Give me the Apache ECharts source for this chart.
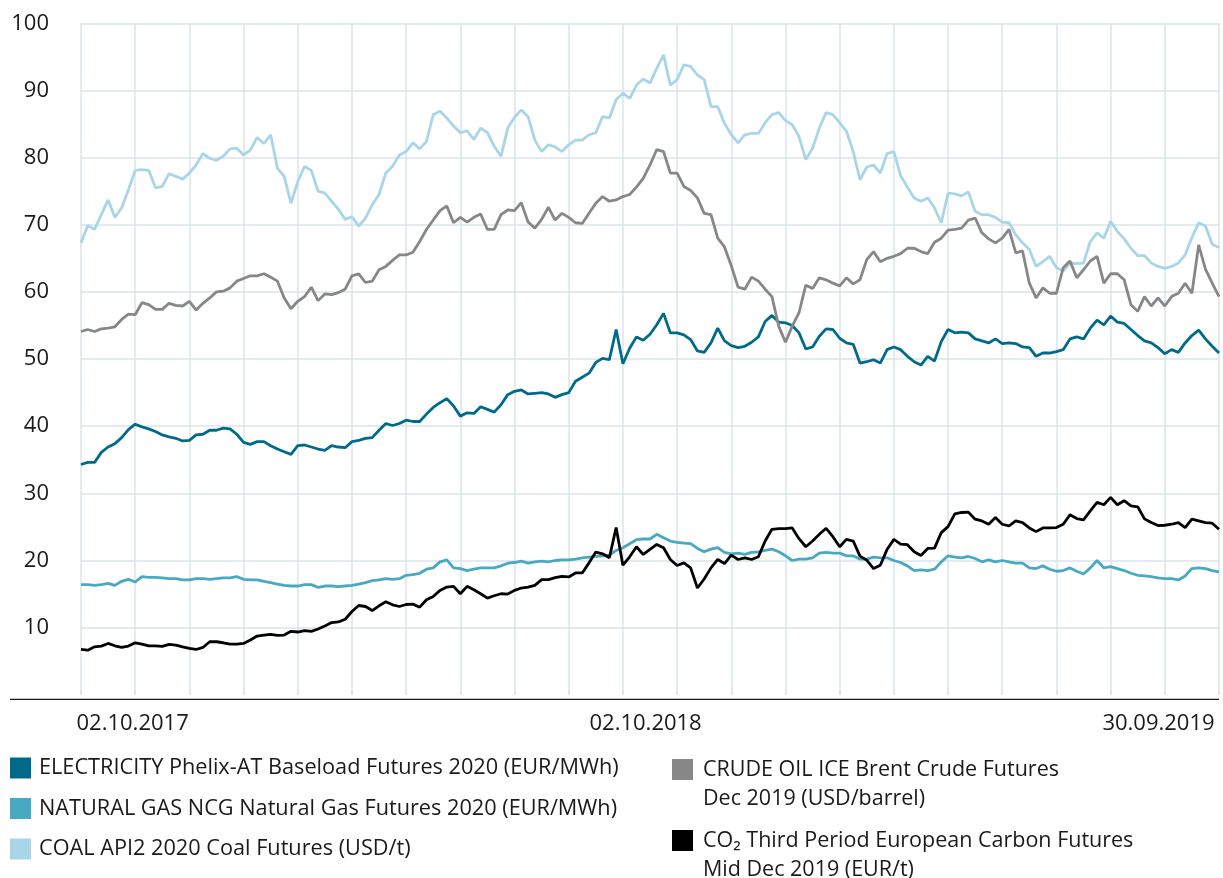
<!DOCTYPE html>
<html>
<head>
<meta charset="utf-8">
<script src="https://cdn.jsdelivr.net/npm/echarts@6/dist/echarts.min.js"></script>
<style>
html, body { margin: 0; padding: 0; background: #fff; }
#main { width: 1223px; height: 878px; }
</style>
</head>
<body>
<div id="main"></div>
<script>
// x runs over sample index 0..168, one gridline every 8 samples
var xLabelPos = [7.62, 83.35, 159.07];
var xLabelText = ['02.10.2017', '02.10.2018', '30.09.2019'];

var electricity = [
    34.3, 34.6, 34.6, 36.1, 36.9, 37.4, 38.3, 39.5, 40.3, 39.9, 39.6, 39.2, 38.7, 38.4, 38.2, 37.8,
    37.9, 38.7, 38.8, 39.4, 39.4, 39.7, 39.6, 38.8, 37.6, 37.3, 37.7, 37.7, 37.1, 36.6, 36.2, 35.8,
    37.1, 37.2, 36.9, 36.6, 36.4, 37.1, 36.9, 36.8, 37.7, 37.9, 38.2, 38.3, 39.4, 40.4, 40.1, 40.4,
    40.9, 40.7, 40.7, 41.8, 42.8, 43.5, 44.1, 43.0, 41.5, 42.0, 41.9, 42.9, 42.5, 42.1, 43.2, 44.7,
    45.2, 45.4, 44.8, 44.9, 45.0, 44.8, 44.3, 44.7, 45.0, 46.7, 47.3, 47.9, 49.5, 50.1, 49.9, 54.4,
    49.3, 51.6, 53.3, 52.8, 53.7, 55.1, 56.8, 53.9, 53.9, 53.6, 52.9, 51.2, 51.0, 52.4, 54.6, 52.7,
    52.0, 51.7, 51.9, 52.5, 53.3, 55.6, 56.5, 55.5, 55.4, 55.0, 53.9, 51.5, 51.8, 53.4, 54.5, 54.4,
    53.1, 52.4, 52.2, 49.4, 49.6, 49.9, 49.4, 51.4, 51.8, 51.4, 50.4, 49.6, 49.1, 50.4, 49.7, 52.6,
    54.4, 53.9, 54.0, 53.9, 53.0, 52.7, 52.4, 53.0, 52.3, 52.4, 52.3, 51.8, 51.7, 50.4, 50.9, 50.9,
    51.1, 51.4, 53.0, 53.3, 53.0, 54.6, 55.8, 55.1, 56.4, 55.5, 55.3, 54.4, 53.5, 52.7, 52.4, 51.7,
    50.8, 51.4, 51.0, 52.4, 53.5, 54.3, 53.0, 51.9, 50.9
];
var naturalGas = [
    16.4, 16.4, 16.3, 16.4, 16.6, 16.3, 16.9, 17.2, 16.8, 17.6, 17.5, 17.5, 17.4, 17.3, 17.3, 17.1,
    17.1, 17.3, 17.3, 17.2, 17.3, 17.4, 17.4, 17.6, 17.2, 17.1, 17.1, 16.9, 16.7, 16.5, 16.3, 16.2,
    16.2, 16.4, 16.4, 16.0, 16.2, 16.2, 16.1, 16.2, 16.3, 16.5, 16.7, 17.0, 17.1, 17.3, 17.2, 17.3,
    17.8, 17.9, 18.1, 18.7, 18.9, 19.8, 20.1, 18.9, 18.8, 18.5, 18.7, 18.9, 18.9, 18.9, 19.2, 19.6,
    19.7, 19.9, 19.6, 19.8, 19.9, 19.8, 20.0, 20.1, 20.1, 20.2, 20.4, 20.5, 20.6, 20.7, 20.8, 21.5,
    21.9, 22.5, 23.1, 23.2, 23.2, 23.9, 23.4, 22.9, 22.7, 22.6, 22.5, 21.8, 21.3, 21.7, 21.9, 21.2,
    21.0, 21.1, 20.9, 21.2, 21.3, 21.5, 21.7, 21.3, 20.7, 20.0, 20.2, 20.2, 20.4, 21.1, 21.2, 21.1,
    21.1, 20.7, 20.7, 20.2, 20.2, 20.5, 20.4, 20.4, 20.0, 19.7, 19.2, 18.5, 18.6, 18.5, 18.7, 19.8,
    20.7, 20.5, 20.4, 20.6, 20.3, 19.8, 20.1, 19.8, 20.0, 19.8, 19.6, 19.6, 18.9, 18.8, 19.2, 18.7,
    18.4, 18.5, 18.9, 18.4, 18.0, 18.9, 20.0, 18.9, 19.1, 18.8, 18.5, 18.1, 17.8, 17.7, 17.6, 17.4,
    17.3, 17.3, 17.1, 17.7, 18.8, 18.9, 18.8, 18.5, 18.3
];
var coal = [
    67.3, 69.9, 69.3, 71.5, 73.7, 71.1, 72.5, 75.2, 78.1, 78.2, 78.1, 75.5, 75.7, 77.6, 77.2, 76.8,
    77.7, 78.9, 80.6, 79.9, 79.6, 80.2, 81.3, 81.4, 80.4, 81.1, 83.0, 82.1, 83.4, 78.4, 77.2, 73.2,
    76.4, 78.7, 78.1, 75.0, 74.7, 73.5, 72.3, 70.8, 71.2, 69.8, 71.0, 73.0, 74.5, 77.7, 78.7, 80.4,
    80.9, 82.2, 81.3, 82.4, 86.4, 86.9, 85.9, 84.7, 83.7, 84.0, 82.7, 84.4, 83.7, 81.7, 80.2, 84.4,
    86.0, 87.1, 86.1, 82.6, 80.9, 81.9, 81.6, 80.9, 81.9, 82.6, 82.6, 83.4, 83.7, 86.1, 85.9, 88.6,
    89.6, 88.8, 90.8, 91.7, 91.1, 93.3, 95.3, 90.8, 91.6, 93.8, 93.6, 92.3, 91.6, 87.6, 87.6, 85.1,
    83.4, 82.2, 83.4, 83.6, 83.6, 85.2, 86.4, 86.7, 85.5, 84.9, 83.1, 79.7, 81.4, 84.4, 86.7, 86.4,
    85.2, 83.9, 80.9, 76.7, 78.6, 78.9, 77.7, 80.6, 80.9, 77.3, 75.6, 74.0, 73.5, 74.0, 72.5, 70.3,
    74.7, 74.6, 74.3, 74.9, 72.0, 71.5, 71.5, 71.1, 70.4, 70.3, 68.5, 67.3, 66.3, 63.8, 64.5, 65.3,
    63.6, 63.1, 64.3, 64.2, 64.3, 67.5, 68.8, 68.0, 70.5, 69.0, 67.9, 66.5, 65.4, 65.4, 64.3, 63.8,
    63.5, 63.8, 64.3, 65.5, 68.1, 70.3, 69.8, 67.1, 66.6
];
var crudeOil = [
    54.1, 54.4, 54.1, 54.5, 54.6, 54.8, 55.9, 56.7, 56.6, 58.4, 58.1, 57.4, 57.4, 58.3, 58.0, 57.9,
    58.6, 57.3, 58.3, 59.1, 60.0, 60.1, 60.6, 61.6, 62.0, 62.4, 62.4, 62.7, 62.2, 61.6, 59.1, 57.5,
    58.6, 59.3, 60.7, 58.7, 59.7, 59.6, 59.9, 60.4, 62.4, 62.7, 61.4, 61.6, 63.3, 63.8, 64.7, 65.5,
    65.5, 65.9, 67.5, 69.3, 70.7, 72.1, 72.8, 70.3, 71.1, 70.4, 71.1, 71.6, 69.3, 69.3, 71.5, 72.2,
    72.1, 73.3, 70.4, 69.5, 70.8, 72.6, 70.7, 71.7, 71.1, 70.3, 70.2, 71.7, 73.2, 74.2, 73.5, 73.7,
    74.2, 74.5, 75.6, 76.9, 78.9, 81.2, 80.9, 77.7, 77.7, 75.7, 75.1, 74.0, 71.7, 71.5, 68.0, 66.7,
    63.9, 60.7, 60.4, 62.2, 61.6, 60.4, 59.3, 54.9, 52.5, 54.9, 56.9, 61.0, 60.5, 62.1, 61.8, 61.3,
    60.9, 62.1, 61.2, 61.8, 64.8, 66.0, 64.5, 65.0, 65.3, 65.7, 66.5, 66.5, 66.0, 65.7, 67.4, 68.0,
    69.2, 69.3, 69.5, 70.7, 71.0, 68.8, 67.9, 67.3, 68.0, 69.3, 65.8, 66.1, 61.3, 59.1, 60.6, 59.8,
    59.8, 63.6, 64.6, 62.1, 63.3, 64.6, 65.3, 61.3, 62.7, 62.7, 61.8, 58.1, 57.1, 59.3, 57.9, 59.1,
    57.9, 59.3, 59.8, 61.3, 59.8, 67.0, 63.4, 61.3, 59.3
];
var carbon = [
    6.75, 6.65, 7.15, 7.25, 7.65, 7.3, 7.05, 7.25, 7.75, 7.55, 7.3, 7.3, 7.2, 7.5, 7.4, 7.15,
    6.9, 6.75, 7.05, 7.9, 7.9, 7.75, 7.55, 7.55, 7.65, 8.15, 8.75, 8.9, 9.0, 8.85, 8.9, 9.45,
    9.35, 9.55, 9.45, 9.8, 10.25, 10.75, 10.85, 11.25, 12.4, 13.3, 13.15, 12.55, 13.25, 13.85, 13.4, 13.15,
    13.45, 13.5, 13.05, 14.15, 14.65, 15.55, 16.05, 16.15, 15.05, 16.15, 15.65, 15.05, 14.4, 14.75, 15.05, 15.0,
    15.55, 15.9, 16.05, 16.3, 17.15, 17.15, 17.45, 17.65, 17.55, 18.15, 18.15, 19.65, 21.25, 21.0, 20.4, 24.9,
    19.3, 20.55, 22.05, 20.9, 21.65, 22.4, 21.9, 20.15, 19.25, 19.65, 18.9, 15.9, 17.25, 18.9, 20.15, 19.55,
    20.8, 20.15, 20.4, 20.15, 20.55, 22.9, 24.65, 24.75, 24.75, 24.85, 23.25, 22.05, 22.9, 23.9, 24.8, 23.55,
    22.05, 23.15, 22.9, 20.65, 20.05, 18.8, 19.3, 21.65, 23.15, 22.45, 22.35, 21.3, 20.75, 21.8, 21.85, 24.15,
    25.05, 26.95, 27.15, 27.2, 26.15, 25.9, 25.4, 26.4, 25.4, 25.15, 25.9, 25.65, 24.85, 24.3, 24.85, 24.85,
    24.9, 25.4, 26.8, 26.25, 26.05, 27.4, 28.65, 28.3, 29.4, 28.3, 28.9, 28.15, 28.0, 26.2, 25.65, 25.2,
    25.25, 25.4, 25.65, 24.9, 26.15, 25.9, 25.65, 25.55, 24.65
];

var seriesNames = [
    'ELECTRICITY Phelix-AT Baseload Futures 2020 (EUR/MWh)',
    'NATURAL GAS NCG Natural Gas Futures 2020 (EUR/MWh)',
    'COAL API2 2020 Coal Futures (USD/t)',
    'CRUDE OIL ICE Brent Crude Futures Dec 2019 (USD/barrel)',
    'CO\u2082 Third Period European Carbon Futures Mid Dec 2019 (EUR/t)'
];
// two-line legend entries; the leading empty line keeps the icon level with the first line
var legendText = {};
legendText[seriesNames[3]] = '\nCRUDE OIL ICE Brent Crude Futures\nDec 2019 (USD/barrel)';
legendText[seriesNames[4]] = '\nCO\u2082 Third Period European Carbon Futures\nMid Dec 2019 (EUR/t)';

var colors = ['#006a8a', '#4aa9c2', '#a8d6e8', '#878787', '#000000'];
var gridColor = '#dae4e9';
var font = 'Open Sans, Noto Sans, DejaVu Sans, sans-serif';
var ySplitColors = ['rgba(0,0,0,0)', gridColor, gridColor, gridColor, gridColor, gridColor,
    gridColor, gridColor, gridColor, gridColor, gridColor];

function toPoints(arr) {
    return arr.map(function (v, i) { return [i, v]; });
}

function lineSeries(idx, values) {
    return {
        name: seriesNames[idx],
        type: 'line',
        data: toPoints(values),
        showSymbol: false,
        symbol: 'none',
        lineStyle: { color: colors[idx], width: 2.8 },
        itemStyle: { color: colors[idx] },
        z: 2 + idx
    };
}

function rightLegend(name, top) {
    return {
        data: [name],
        left: 672,
        top: top,
        padding: 0,
        icon: 'rect',
        itemWidth: 21,
        itemHeight: 21,
        selectedMode: false,
        formatter: function (n) { return legendText[n]; },
        textStyle: { fontFamily: font, fontSize: 21.5, color: '#1a1a1a', lineHeight: 29, padding: [0, 0, 0, 5] }
    };
}

var myChart = echarts.init(document.getElementById('main'));

myChart.setOption({
    animation: false,
    textStyle: { fontFamily: font },
    grid: { left: 81, right: 4, top: 23.3, bottom: 183.2 },
    xAxis: {
        type: 'value',
        min: 0,
        max: 168,
        interval: 8,
        offset: 4,
        axisLine: { show: false },
        axisTick: { show: true, inside: true, length: 4, lineStyle: { color: gridColor, width: 1.5 } },
        splitLine: { show: true, lineStyle: { color: gridColor, width: 1.5 } },
        axisLabel: {
            customValues: xLabelPos,
            margin: 14,
            fontSize: 22,
            color: '#1a1a1a',
            formatter: function (v) {
                var best = 0;
                for (var k = 1; k < xLabelPos.length; k++) {
                    if (Math.abs(xLabelPos[k] - v) < Math.abs(xLabelPos[best] - v)) best = k;
                }
                return xLabelText[best];
            }
        }
    },
    yAxis: {
        type: 'value',
        min: 0,
        max: 100,
        interval: 10,
        axisLine: { show: false },
        axisTick: { show: false },
        splitLine: { show: true, lineStyle: { color: ySplitColors, width: 1.5 } },
        axisLabel: { showMinLabel: false, margin: 32, fontSize: 22, color: '#1a1a1a' }
    },
    legend: [
        {
            data: seriesNames.slice(0, 3),
            orient: 'vertical',
            left: 10,
            top: 756,
            padding: 0,
            itemGap: 16.5,
            icon: 'rect',
            itemWidth: 21,
            itemHeight: 21,
            selectedMode: false,
            textStyle: { fontFamily: font, fontSize: 21.7, color: '#1a1a1a', lineHeight: 21, padding: [3, 0, 0, 3] }
        },
        rightLegend(seriesNames[3], 726),
        rightLegend(seriesNames[4], 797)
    ],
    graphic: [{
        type: 'line',
        shape: { x1: 10, y1: 699.3, x2: 1219, y2: 699.3 },
        style: { stroke: '#1a1a1a', lineWidth: 1.3 }
    }],
    series: [
        lineSeries(2, coal),
        lineSeries(0, electricity),
        lineSeries(1, naturalGas),
        lineSeries(3, crudeOil),
        lineSeries(4, carbon)
    ]
});
</script>
</body>
</html>
